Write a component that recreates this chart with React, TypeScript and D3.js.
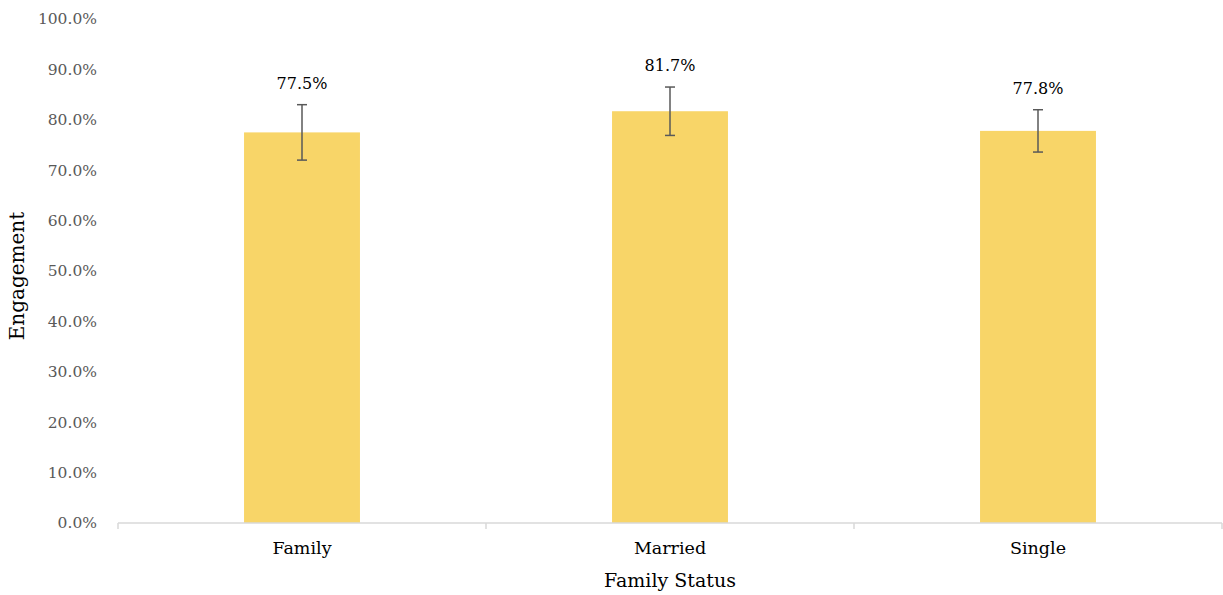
import React from "react";
import * as d3 from "d3";

const categories = ["Family", "Married", "Single"];
const values = [0.775, 0.817, 0.778];
const errors = [0.055, 0.048, 0.042];
const yTicks = [0, 0.1, 0.2, 0.3, 0.4, 0.5, 0.6, 0.7, 0.8, 0.9, 1.0];

const W = 1223, H = 595;
const M = { left: 118, right: 1222, top: 19, bottom: 523 };
const FONT = "'Palatino Linotype', 'Book Antiqua', Palatino, 'DejaVu Serif', serif";

export default function App() {
  const x = d3.scaleBand<string>().domain(categories).range([M.left, M.right]).paddingInner(0).paddingOuter(0);
  const y = d3.scaleLinear().domain([0, 1]).range([M.bottom, M.top]);
  const barW = x.bandwidth() * 0.315;
  const fmt = d3.format(".1%");
  const boundaries = [...categories.map((c) => x(c)!), M.right];
  return (
    <svg width={W} height={H} style={{ position: "absolute", left: 0, top: 0 }} fontFamily={FONT}>
      {yTicks.map((t) => (
        <text key={t} x={97} y={y(t)} dy="0.35em" textAnchor="end" fontSize={15.5} fill="#595959">
          {fmt(t)}
        </text>
      ))}
      {categories.map((c, i) => {
        const cx = x(c)! + x.bandwidth() / 2;
        return (
          <g key={c}>
            <rect x={cx - barW / 2} y={y(values[i])} width={barW} height={y(0) - y(values[i])} fill="#F8D568" />
            <line x1={cx} x2={cx} y1={y(values[i] + errors[i])} y2={y(values[i] - errors[i])} stroke="#595959" strokeWidth={1.5} />
            <line x1={cx - 5} x2={cx + 5} y1={y(values[i] + errors[i])} y2={y(values[i] + errors[i])} stroke="#595959" strokeWidth={1.5} />
            <line x1={cx - 5} x2={cx + 5} y1={y(values[i] - errors[i])} y2={y(values[i] - errors[i])} stroke="#595959" strokeWidth={1.5} />
            <text x={cx} y={y(values[i] + errors[i]) - 16} textAnchor="middle" fontSize={16} fill="#000">
              {fmt(values[i])}
            </text>
            <text x={cx} y={554} textAnchor="middle" fontSize={17.5} fill="#000">
              {c}
            </text>
          </g>
        );
      })}
      <line x1={M.left} x2={M.right} y1={M.bottom} y2={M.bottom} stroke="#d9d9d9" strokeWidth={1.5} />
      {boundaries.map((b, i) => (
        <line key={i} x1={b} x2={b} y1={M.bottom} y2={M.bottom + 6} stroke="#d9d9d9" strokeWidth={1.5} />
      ))}
      <text x={670} y={587} textAnchor="middle" fontSize={19} fill="#000">Family Status</text>
      <text transform={`translate(24, 276) rotate(-90)`} textAnchor="middle" fontSize={20} fill="#000">
        Engagement
      </text>
    </svg>
  );
}
